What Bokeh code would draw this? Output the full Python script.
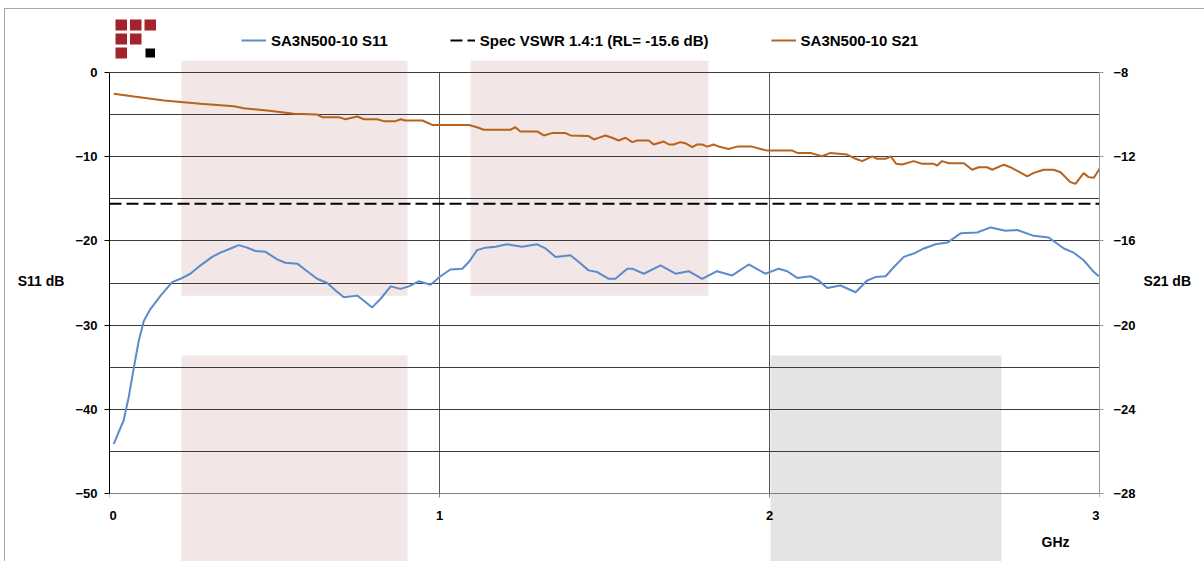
from bokeh.plotting import figure
from bokeh.models import (Range1d, LinearAxis, FixedTicker, BoxAnnotation,
                          Legend, LegendItem, Label, GlobalInlineStyleSheet)
from bokeh.embed import file_html
from bokeh.resources import INLINE

# ---------------- data ----------------
freq_s11 = [0.013, 0.043, 0.058, 0.074, 0.089, 0.104, 0.124, 0.155, 0.19, 0.215,
            0.245, 0.276, 0.311, 0.336, 0.367, 0.392, 0.417, 0.442, 0.473, 0.508,
            0.533, 0.569, 0.599, 0.629, 0.660, 0.685, 0.710, 0.751, 0.771, 0.796,
            0.821, 0.852, 0.882, 0.907, 0.937, 0.973, 1.003, 1.033, 1.069, 1.089,
            1.114, 1.139, 1.170, 1.205, 1.250, 1.296, 1.321, 1.352, 1.397, 1.422,
            1.452, 1.478, 1.513, 1.533, 1.569, 1.584, 1.619, 1.670, 1.715, 1.755,
            1.796, 1.841, 1.887, 1.937, 1.988, 2.028, 2.054, 2.084, 2.124, 2.149,
            2.175, 2.215, 2.261, 2.296, 2.321, 2.352, 2.377, 2.407, 2.437, 2.468,
            2.503, 2.539, 2.579, 2.629, 2.670, 2.715, 2.751, 2.801, 2.846, 2.892,
            2.922, 2.952, 2.983, 2.998]
s11_db = [-44.1, -41.3, -38.6, -35.0, -31.8, -29.5, -28.1, -26.5, -24.9, -24.5,
          -23.9, -22.9, -21.9, -21.4, -20.9, -20.5, -20.8, -21.2, -21.3, -22.2,
          -22.6, -22.7, -23.6, -24.5, -25.0, -25.9, -26.7, -26.5, -27.1, -27.9,
          -26.9, -25.4, -25.7, -25.4, -24.8, -25.2, -24.2, -23.4, -23.3, -22.5,
          -21.1, -20.8, -20.7, -20.4, -20.7, -20.4, -20.9, -21.9, -21.7, -22.5,
          -23.5, -23.7, -24.5, -24.5, -23.3, -23.3, -23.9, -22.9, -23.9, -23.6,
          -24.5, -23.6, -24.1, -22.8, -23.9, -23.3, -23.6, -24.4, -24.2, -24.7,
          -25.6, -25.3, -26.1, -24.7, -24.3, -24.2, -23.1, -21.9, -21.5, -20.9,
          -20.4, -20.2, -19.1, -19.0, -18.4, -18.8, -18.7, -19.4, -19.6, -20.9,
          -21.4, -22.3, -23.7, -24.2]

freq_s21 = [0.013, 0.074, 0.165, 0.225, 0.276, 0.377, 0.407, 0.478, 0.559, 0.629,
            0.645, 0.695, 0.715, 0.751, 0.771, 0.811, 0.831, 0.867, 0.882, 0.897,
            0.948, 0.978, 1.089, 1.114, 1.134, 1.215, 1.230, 1.245, 1.296, 1.316,
            1.341, 1.382, 1.397, 1.452, 1.468, 1.488, 1.503, 1.523, 1.543, 1.564,
            1.584, 1.599, 1.634, 1.649, 1.680, 1.695, 1.710, 1.730, 1.745, 1.766,
            1.781, 1.796, 1.811, 1.831, 1.846, 1.876, 1.902, 1.947, 1.973, 1.993,
            2.069, 2.084, 2.124, 2.159, 2.185, 2.235, 2.261, 2.281, 2.311, 2.326,
            2.352, 2.367, 2.384, 2.402, 2.437, 2.463, 2.498, 2.508, 2.523, 2.543,
            2.589, 2.614, 2.634, 2.659, 2.675, 2.710, 2.730, 2.781, 2.801, 2.831,
            2.861, 2.882, 2.912, 2.927, 2.952, 2.967, 2.983, 3.0]
s21_db = [-9.01, -9.14, -9.33, -9.41, -9.49, -9.60, -9.70, -9.81, -9.96, -10.0,
          -10.12, -10.12, -10.22, -10.09, -10.22, -10.22, -10.31, -10.31, -10.22, -10.28,
          -10.28, -10.49, -10.49, -10.6, -10.72, -10.72, -10.6, -10.8, -10.8, -10.99,
          -10.88, -10.88, -10.99, -11.02, -11.18, -11.07, -10.99, -11.1, -11.23, -11.1,
          -11.31, -11.23, -11.23, -11.42, -11.28, -11.42, -11.42, -11.31, -11.36, -11.55,
          -11.42, -11.42, -11.52, -11.42, -11.52, -11.63, -11.52, -11.52, -11.63, -11.71,
          -11.71, -11.82, -11.82, -11.98, -11.82, -11.9, -12.1, -12.21, -11.98, -12.1,
          -12.1, -11.98, -12.34, -12.37, -12.21, -12.34, -12.34, -12.42, -12.21, -12.31,
          -12.31, -12.62, -12.5, -12.5, -12.62, -12.38, -12.5, -12.93, -12.77, -12.62,
          -12.62, -12.74, -13.21, -13.29, -12.78, -12.97, -13.0, -12.57]

spec_rl_db = -15.6
x_limits = [0, 3]
s11_limits = [-50, 0]
s21_limits = [-28, -8]
x_ticks = [0, 1, 2, 3]
s11_ticks = [0, -10, -20, -30, -40, -50]
s11_grid = [0, -5, -10, -15, -20, -25, -30, -35, -40, -45, -50]
s21_ticks = [-8, -12, -16, -20, -24, -28]
x_grid = [1, 2]

legend_labels = ["SA3N500-10 S11", "Spec VSWR 1.4:1 (RL= -15.6 dB)", "SA3N500-10 S21"]

# shaded bands (GHz / dB); lower bands run to the bottom of the picture
bands_upper = [(0.218, 0.903), (1.094, 1.815)]
bands_lower_pink = [(0.218, 0.903)]
bands_lower_grey = [(2.003, 2.703)]
band_upper_y = (1.4, -26.5)
band_lower_top = -33.6

# ---------------- layout (page pixels) ----------------
W, VIEW_H = 1204, 561
FRAME_L, FRAME_R = 109, 1099          # x = 0 .. 3 GHz
Y0_PX, Y50_PX = 72, 493               # S11 = 0 .. -50 dB
BOTTOM_PANEL = 40                     # hidden below the window

px_per_db = (Y50_PX - Y0_PX) / (s11_limits[1] - s11_limits[0])
y_top = s11_limits[1] + Y0_PX / px_per_db
y_bot = s11_limits[1] - (VIEW_H - Y0_PX) / px_per_db
k = (s21_limits[1] - s21_limits[0]) / (s11_limits[1] - s11_limits[0])
s21_top = s21_limits[1] + (y_top - s11_limits[1]) * k
s21_bot = s21_limits[1] + (y_bot - s11_limits[1]) * k

def px2x(px):
    return x_limits[0] + (px - FRAME_L) / (FRAME_R - FRAME_L) * (x_limits[1] - x_limits[0])

def px2y(py):
    return s11_limits[1] - (py - Y0_PX) / px_per_db

# ---------------- styling ----------------
FONT = "Liberation Sans"
BLUE = "#5b8bcb"
ORANGE = "#b8621b"
PINK = "#f2e6e7"
GREY = "#e4e4e4"
LOGO_RED = "#a3232b"
GRID = "#3c3c3c"
BORDER = "#a6a6a6"
NBSP = "\u00a0"

p = figure(width=W, height=VIEW_H + BOTTOM_PANEL, output_backend="svg",
           toolbar_location=None, title=None,
           x_range=Range1d(*x_limits), y_range=Range1d(y_bot, y_top),
           min_border_left=FRAME_L, min_border_right=W - FRAME_R,
           min_border_top=0, min_border_bottom=BOTTOM_PANEL)
p.extra_y_ranges = {"s21": Range1d(s21_bot, s21_top)}
p.outline_line_color = None
p.background_fill_color = None
p.border_fill_color = None
p.styles = {
    "background": ("linear-gradient(%s,%s) 4px 8px / 1px 100%% no-repeat, "
                   "linear-gradient(%s,%s) 4px 8px / 100%% 1px no-repeat, #ffffff")
                  % (BORDER, BORDER, BORDER, BORDER)
}
p.stylesheets = [GlobalInlineStyleSheet(css="html, body { overflow: hidden; margin: 0; }")]

# bands
for (x0, x1) in bands_upper:
    p.add_layout(BoxAnnotation(left=x0, right=x1, top=band_upper_y[0], bottom=band_upper_y[1],
                               fill_color=PINK, fill_alpha=1, line_color=None, level="image"))
for (x0, x1) in bands_lower_pink:
    p.add_layout(BoxAnnotation(left=x0, right=x1, top=band_lower_top, bottom=y_bot,
                               fill_color=PINK, fill_alpha=1, line_color=None, level="image"))
for (x0, x1) in bands_lower_grey:
    p.add_layout(BoxAnnotation(left=x0, right=x1, top=band_lower_top, bottom=y_bot,
                               fill_color=GREY, fill_alpha=1, line_color=None, level="image"))

# logo
logo_cells = [(0, 0, LOGO_RED), (1, 0, LOGO_RED), (2, 0, LOGO_RED),
              (0, 1, LOGO_RED), (1, 1, LOGO_RED),
              (0, 2, LOGO_RED), (2, 2, "black")]
for (c, r, col) in logo_cells:
    x0 = 115 + c * 14.5
    y0 = 19 + r * 14
    inset = 1 if col == "black" else 0
    p.add_layout(BoxAnnotation(left=px2x(x0 + inset), right=px2x(x0 + 11.5 - inset),
                               top=px2y(y0 + inset), bottom=px2y(y0 + 11 - inset),
                               fill_color=col, fill_alpha=1, line_color=None, level="overlay"))

# grids
p.xgrid.ticker = FixedTicker(ticks=x_grid, minor_ticks=[])
p.xgrid.grid_line_color = "#555555"
p.xgrid.grid_line_width = 1
p.xgrid.cross_bounds = (s11_limits[0], s11_limits[1])
p.ygrid.ticker = FixedTicker(ticks=s11_grid, minor_ticks=[])
p.ygrid.grid_line_color = GRID
p.ygrid.grid_line_width = 1
p.ygrid.cross_bounds = (x_limits[0], x_limits[1])

# axes
def style_axis(ax, line_color):
    ax.axis_line_color = line_color
    ax.major_tick_line_color = line_color
    ax.minor_tick_line_color = None
    ax.major_tick_in = 0
    ax.major_label_text_font = FONT
    ax.major_label_text_font_size = "13px"
    ax.major_label_text_font_style = "bold"
    ax.major_label_text_color = "black"
    ax.axis_label_text_font = FONT
    ax.axis_label_text_font_size = "14px"
    ax.axis_label_text_font_style = "bold"
    ax.axis_label_text_color = "black"

xax = p.xaxis[0]
xax.ticker = FixedTicker(ticks=x_ticks, minor_ticks=[])
style_axis(xax, "#7f7f7f")
xax.fixed_location = s11_limits[0]
xax.bounds = (x_limits[0], x_limits[1])
xax.major_tick_out = 4
xax.major_label_standoff = 10
# the end labels sit on the frame edge; pad them so the digit stays inside
xax.major_label_overrides = {x_ticks[0]: NBSP * 2 + str(x_ticks[0]),
                             x_ticks[-1]: str(x_ticks[-1]) + NBSP * 2}

yax = p.yaxis[0]
yax.ticker = FixedTicker(ticks=s11_ticks, minor_ticks=[])
style_axis(yax, "black")
yax.bounds = (s11_limits[0], s11_limits[1])
yax.major_tick_out = 5
yax.major_label_standoff = 7
yax.axis_label = "S11 dB"
yax.axis_label_orientation = "horizontal"
yax.axis_label_standoff = 8

rax = LinearAxis(y_range_name="s21", ticker=FixedTicker(ticks=s21_ticks, minor_ticks=[]))
style_axis(rax, "#9a9a9a")
rax.bounds = (s21_limits[0], s21_limits[1])
rax.major_tick_out = 4
rax.major_label_standoff = 10
rax.axis_label = "S21 dB"
rax.axis_label_orientation = "horizontal"
rax.axis_label_standoff = 5
p.add_layout(rax, "right")

# lines
r1 = p.line(freq_s11, s11_db, line_color=BLUE, line_width=2)
r2 = p.line(x_limits, [spec_rl_db, spec_rl_db], line_color="black", line_width=2,
            line_dash="12 5")
r3 = p.line(freq_s21, s21_db, line_color=ORANGE, line_width=2, y_range_name="s21")

legend = Legend(items=[LegendItem(label=legend_labels[0], renderers=[r1]),
                       LegendItem(label=legend_labels[1], renderers=[r2]),
                       LegendItem(label=legend_labels[2], renderers=[r3])],
                orientation="horizontal", location=(241 - FRAME_L, VIEW_H - 50),
                label_text_font=FONT, label_text_font_size="15px",
                label_text_font_style="bold", label_text_color="black",
                glyph_width=25, glyph_height=20, label_height=20,
                label_standoff=5, spacing=62, padding=0, margin=0,
                border_line_color=None, background_fill_alpha=0)
p.add_layout(legend, "center")

p.add_layout(Label(x=2.867, y=px2y(541), text="GHz", text_align="center",
                   text_baseline="middle", text_font=FONT, text_font_size="14px",
                   text_font_style="bold", text_color="black"))

open("out.html", "w").write(file_html(p, INLINE))
